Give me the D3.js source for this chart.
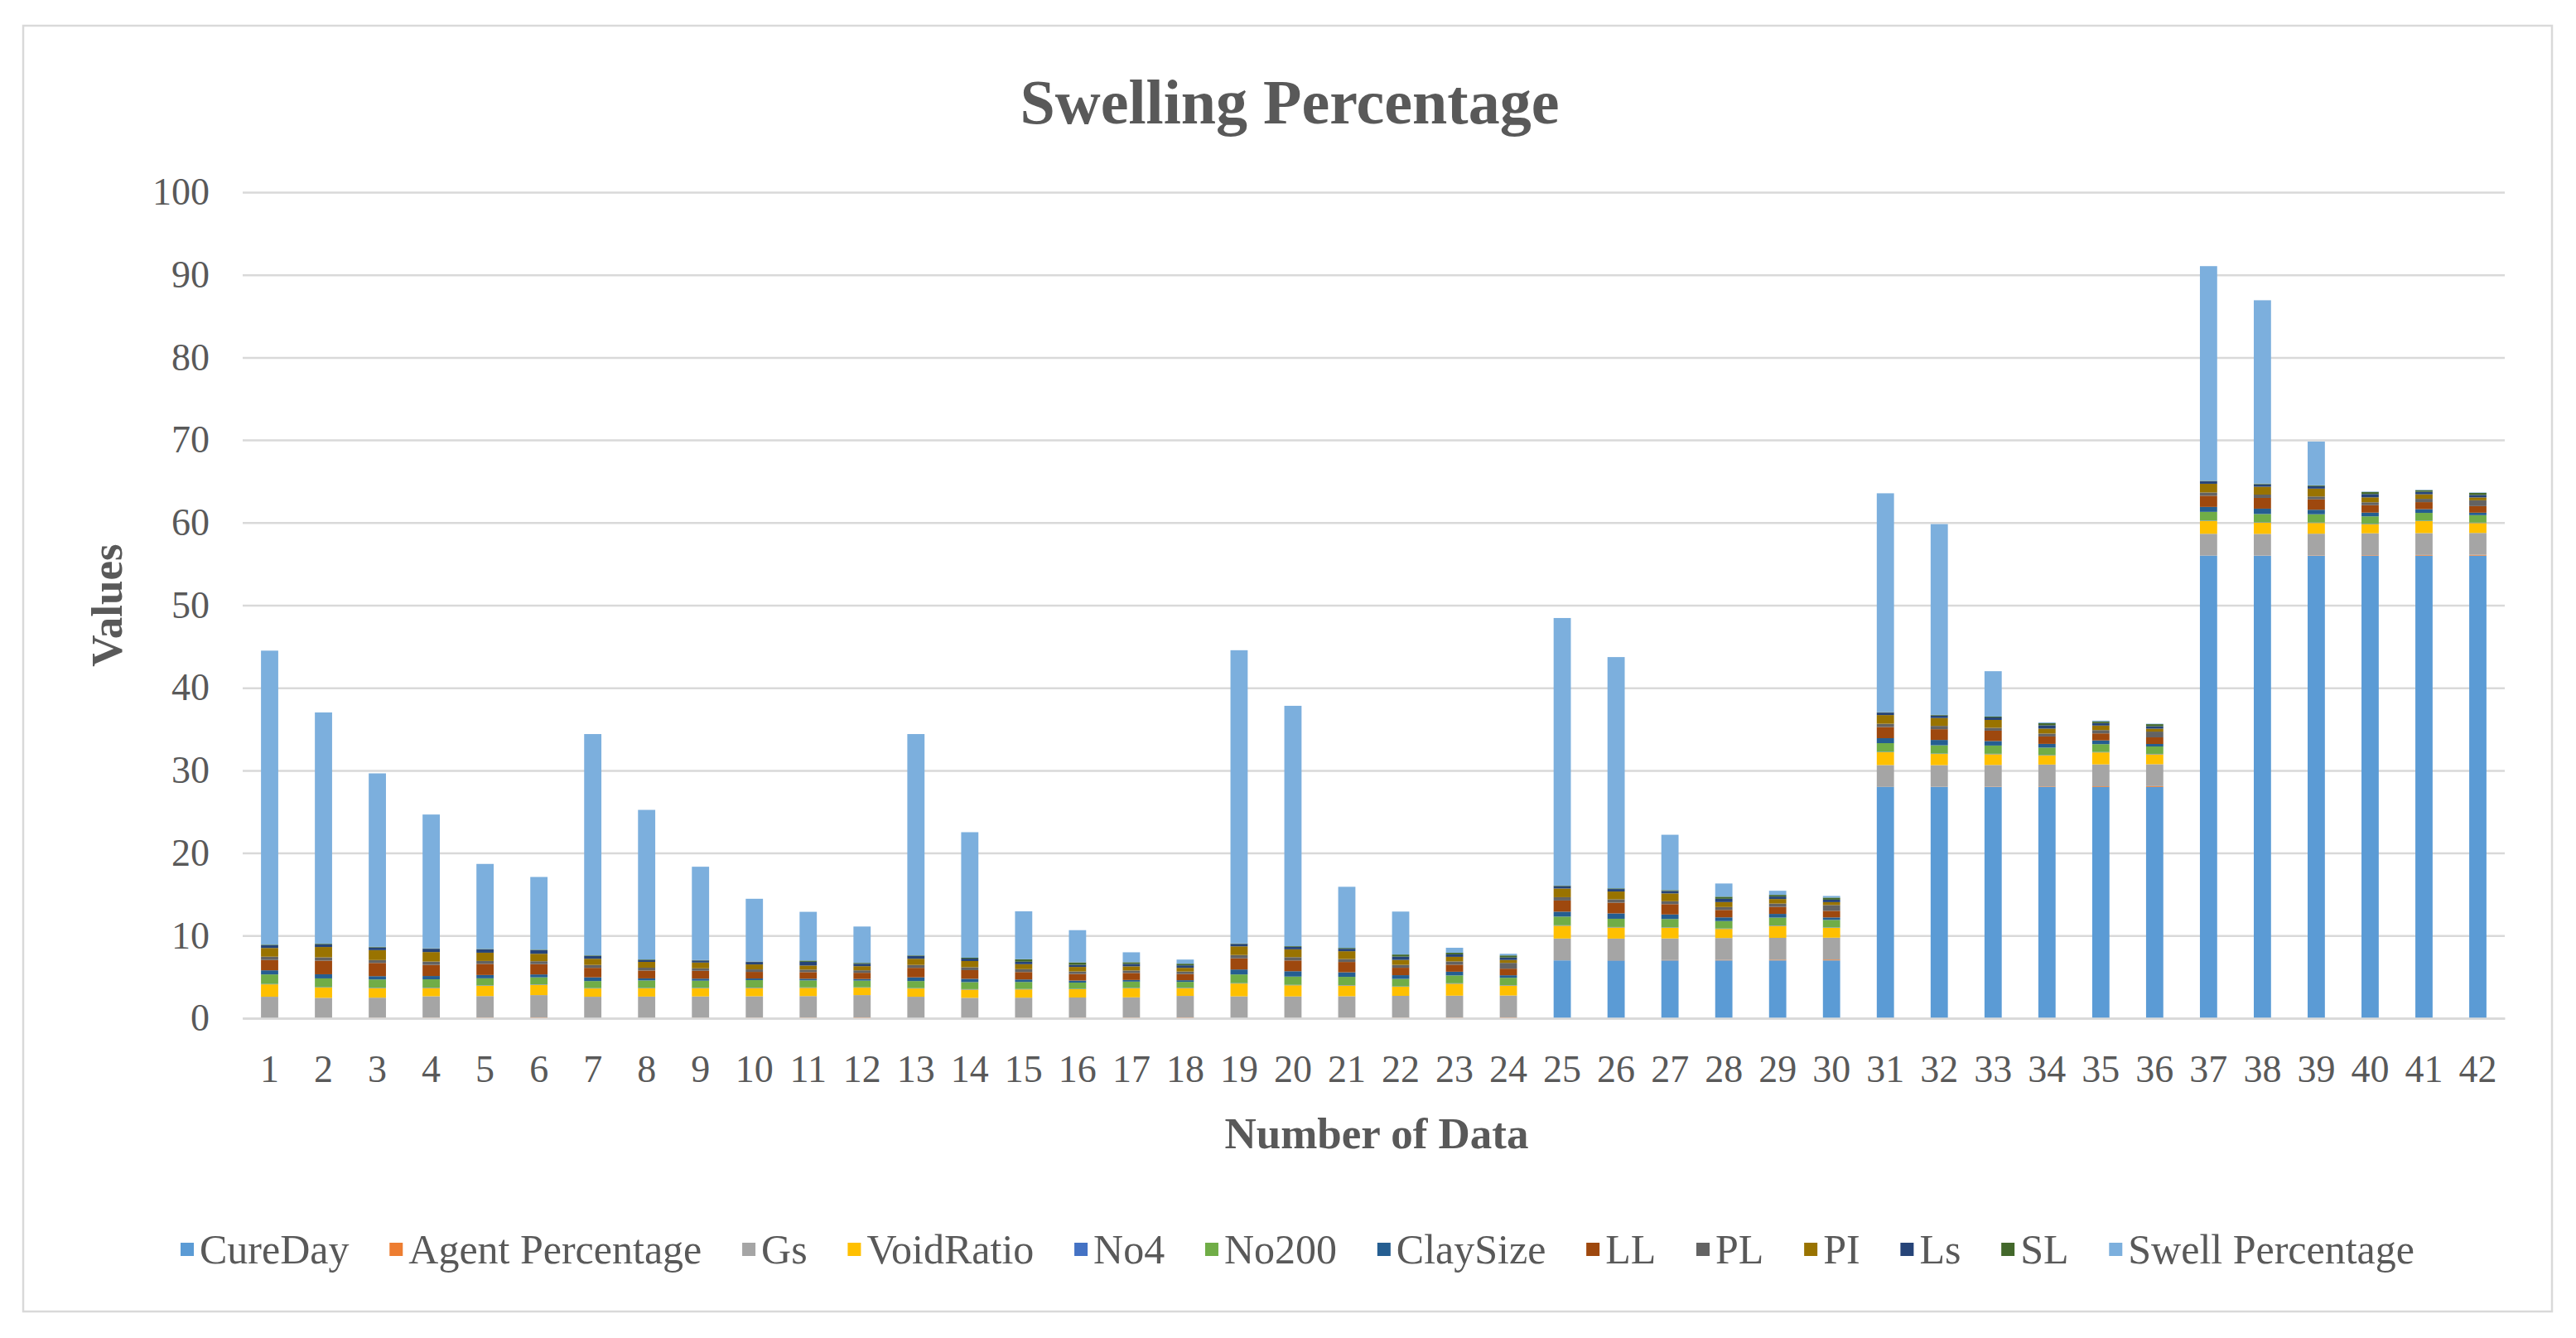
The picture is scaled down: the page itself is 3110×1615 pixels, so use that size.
<!DOCTYPE html>
<html>
<head>
<meta charset="utf-8">
<script src="https://cdn.jsdelivr.net/npm/d3@7/dist/d3.min.js"></script>
<style>
  html, body { margin: 0; padding: 0; background: #ffffff; }
  svg { display: block; }
  text { font-family: "Liberation Serif", "Times New Roman", serif; }
</style>
</head>
<body>
<svg id="chart" width="3110" height="1615"></svg>
<script>
// ---------------- DATA ----------------
const categories = d3.range(1, 43).map(String);

const seriesNames = ["CureDay", "Agent Percentage", "Gs", "VoidRatio", "No4", "No200",
  "ClaySize", "LL", "PL", "PI", "Ls", "SL", "Swell Percentage"];

const seriesColors = ["#5B9BD5", "#ED7D31", "#A5A5A5", "#FFC000", "#4472C4", "#70AD47",
  "#255E91", "#9E480E", "#636363", "#997300", "#264478", "#43682B", "#7CAFDD"];

const cureDay = [0,0,0,0,0,0, 0,0,0,0,0,0, 0,0,0,0,0,0, 0,0,0,0,0,0,
  7,7,7,7,7,7, 28,28,28,28,28,28, 56,56,56,56,56,56];

const agentPercentage = [0,0.02,0.04,0.06,0.08,0.1, 0,0.02,0.04,0.06,0.08,0.1,
  0,0.02,0.04,0.06,0.08,0.1, 0,0.02,0.04,0.06,0.08,0.1, 0,0.02,0.04,0.06,0.08,0.1,
  0,0.02,0.04,0.06,0.08,0.1, 0,0.02,0.04,0.06,0.08,0.1];

const gs = [2.6,2.45,2.45,2.6,2.6,2.7, 2.6,2.6,2.6,2.6,2.6,2.7, 2.6,2.45,2.45,2.45,2.45,2.6,
  2.65,2.62,2.62,2.65,2.65,2.65, 2.65,2.62,2.62,2.65,2.65,2.65,
  2.65,2.62,2.62,2.65,2.65,2.65, 2.65,2.62,2.62,2.65,2.65,2.65];

const voidRatio = [1.5,1.25,1.15,1.0,1.25,1.25, 1.0,1.0,1.0,1.0,1.0,0.9, 1.0,1.0,1.0,1.0,1.1,0.95,
  1.55,1.35,1.3,1.1,1.45,1.2, 1.55,1.35,1.3,1.1,1.45,1.2,
  1.55,1.35,1.3,1.1,1.45,1.2, 1.55,1.35,1.3,1.1,1.45,1.2];

const no4 = [0.05,0.05,0.05,0.05,0.05,0.05, 0.05,0.05,0.05,0.05,0.05,0.05, 0.05,0.05,0.05,0.05,0.05,0.05,
  0.05,0.05,0.05,0.05,0.05,0.05, 0.05,0.05,0.05,0.05,0.05,0.05,
  0.05,0.05,0.05,0.05,0.05,0.05, 0.05,0.05,0.05,0.05,0.05,0.05];

const no200 = [1.15,1.05,1.0,1.0,0.85,0.85, 0.85,0.9,0.85,0.9,0.85,0.8, 0.85,0.85,0.85,0.75,0.75,0.7,
  1.05,1.0,1.0,0.9,0.95,0.9, 1.05,1.0,1.0,0.9,0.95,0.9,
  1.05,1.0,1.0,0.9,0.95,0.9, 1.05,1.0,1.0,0.9,0.95,0.9];

const claySize = [0.5,0.5,0.4,0.4,0.4,0.35, 0.45,0.25,0.25,0.2,0.2,0.2, 0.45,0.4,0.3,0.25,0.2,0.2,
  0.6,0.65,0.55,0.45,0.45,0.3, 0.6,0.65,0.55,0.45,0.45,0.3,
  0.6,0.65,0.55,0.45,0.45,0.3, 0.6,0.65,0.55,0.45,0.45,0.3];

const ll = [1.25,1.65,1.6,1.35,1.35,1.25, 1.15,0.95,0.95,0.8,0.8,0.75, 1.15,1.05,0.9,0.8,0.85,0.75,
  1.35,1.3,1.25,0.9,0.85,0.8, 1.35,1.3,1.25,0.9,0.85,0.8,
  1.35,1.3,1.25,0.9,0.85,0.8, 1.35,1.3,1.25,0.9,0.85,0.8];

const pl = [0.4,0.4,0.35,0.4,0.35,0.35, 0.35,0.35,0.3,0.3,0.3,0.3, 0.35,0.35,0.35,0.3,0.3,0.3,
  0.4,0.4,0.35,0.35,0.4,0.7, 0.4,0.4,0.35,0.35,0.4,0.7,
  0.4,0.4,0.35,0.35,0.4,0.7, 0.4,0.4,0.35,0.35,0.4,0.7];

const pi = [1.05,1.25,1.2,1.15,1.0,0.9, 0.75,0.7,0.7,0.6,0.5,0.5, 0.75,0.75,0.6,0.55,0.5,0.45,
  1.05,0.95,0.95,0.6,0.55,0.35, 1.05,0.95,0.95,0.6,0.55,0.35,
  1.05,0.95,0.95,0.6,0.55,0.35, 1.05,0.95,0.95,0.6,0.55,0.35];

const ls = [0.33,0.33,0.33,0.4,0.4,0.45, 0.33,0.25,0.25,0.3,0.45,0.3, 0.33,0.3,0.3,0.25,0.3,0.3,
  0.3,0.3,0.3,0.4,0.3,0.3, 0.3,0.3,0.3,0.4,0.3,0.3,
  0.3,0.3,0.3,0.4,0.3,0.3, 0.3,0.3,0.3,0.4,0.3,0.3];

const sl = [0.07,0.07,0.07,0.05,0.05,0.05, 0.07,0.05,0.05,0.05,0.15,0.1, 0.07,0.1,0.3,0.3,0.2,0.2,
  0.05,0.08,0.1,0.25,0.2,0.25, 0.05,0.08,0.1,0.25,0.2,0.25,
  0.05,0.08,0.1,0.25,0.2,0.25, 0.05,0.08,0.1,0.25,0.2,0.25];

const swellPercentage = [35.6,28.0,21.0,16.2,10.3,8.8, 26.8,18.1,11.3,7.6,5.9,4.4,
  26.8,15.2,5.8,3.9,1.2,0.5, 35.5,29.1,7.4,5.2,0.6,0.2,
  32.4,28.0,6.7,1.6,0.5,0.2, 26.5,23.1,5.5,0.1,0.1,0.05, 26.0,22.2,5.3,0.05,0.05,0.05];

const yTicks = [0,10,20,30,40,50,60,70,80,90,100];

const titleText = "Swelling Percentage";
const xTitle = "Number of Data";
const yTitle = "Values";

// ---------------- BUILD TABLE ----------------
const seriesValues = [cureDay, agentPercentage, gs, voidRatio, no4, no200, claySize,
  ll, pl, pi, ls, sl, swellPercentage];
const table = categories.map((c, i) => {
  const row = { cat: c };
  seriesNames.forEach((s, k) => { row[s] = seriesValues[k][i]; });
  return row;
});

// ---------------- LAYOUT ----------------
const W = 3110, H = 1615;
const plot = { left: 293, right: 3024, top: 232, bottom: 1229 };
const textColor = "#595959";
const gridColor = "#D9D9D9";

const svg = d3.select("#chart");
svg.append("rect").attr("x", 0).attr("y", 0).attr("width", W).attr("height", H).attr("fill", "#fff");
svg.append("rect").attr("x", 28).attr("y", 31).attr("width", 3053).attr("height", 1552)
  .attr("fill", "#fff").attr("stroke", gridColor).attr("stroke-width", 2.5);

const x = d3.scaleBand().domain(categories).range([plot.left, plot.right])
  .paddingInner(0.68).paddingOuter(0.34);
const y = d3.scaleLinear().domain([0, 100]).range([plot.bottom, plot.top]);

// gridlines
const yAxis = d3.axisLeft(y).tickValues(yTicks).tickSize(-(plot.right - plot.left)).tickPadding(40);
const gy = svg.append("g").attr("transform", `translate(${plot.left},0)`).call(yAxis);
gy.select(".domain").remove();
gy.selectAll(".tick line").attr("stroke", gridColor).attr("stroke-width", 2.5);
gy.selectAll(".tick text").attr("fill", textColor).attr("font-size", 46)
  .style("font-family", '"Liberation Serif", "Times New Roman", serif');

// stacked bars
const stack = d3.stack().keys(seriesNames);
const layers = stack(table);
const gBars = svg.append("g");
layers.forEach((layer, k) => {
  gBars.append("g").attr("fill", seriesColors[k])
    .selectAll("rect").data(layer).join("rect")
    .attr("x", d => x(d.data.cat))
    .attr("width", x.bandwidth())
    .attr("y", d => y(d[1]))
    .attr("height", d => Math.max(0, y(d[0]) - y(d[1])));
});

// x axis
const xAxis = d3.axisBottom(x).tickSize(0).tickPadding(44);
const gx = svg.append("g").attr("transform", `translate(0,${plot.bottom})`).call(xAxis);
gx.select(".domain").attr("stroke", gridColor).attr("stroke-width", 2.5);
gx.selectAll(".tick text").attr("fill", textColor).attr("font-size", 46)
  .style("font-family", '"Liberation Serif", "Times New Roman", serif');

// title
svg.append("text").attr("x", 1557).attr("y", 123).attr("text-anchor", "middle")
  .attr("dominant-baseline", "central").attr("font-size", 76).attr("font-weight", "bold")
  .attr("fill", textColor).text(titleText);

// axis titles
svg.append("text").attr("x", 1662).attr("y", 1368).attr("text-anchor", "middle")
  .attr("dominant-baseline", "central").attr("font-size", 53).attr("font-weight", "bold")
  .attr("fill", textColor).text(xTitle);
svg.append("text").attr("transform", `translate(129,${(plot.top + plot.bottom) / 2}) rotate(-90)`)
  .attr("text-anchor", "middle").attr("dominant-baseline", "central")
  .attr("font-size", 53).attr("font-weight", "bold").attr("fill", textColor).text(yTitle);

// legend
const legY = 1508, marker = 16, markerGap = 7, legLeft = 218, legRight = 2915;
const legG = svg.append("g");
const items = seriesNames.map((name, k) => {
  const g = legG.append("g");
  g.append("rect").attr("width", marker).attr("height", marker).attr("y", legY - marker / 2)
    .attr("fill", seriesColors[k]);
  const t = g.append("text").attr("x", marker + markerGap).attr("y", legY)
    .attr("dominant-baseline", "central").attr("font-size", 50).attr("fill", textColor).text(name);
  return { g, w: marker + markerGap + t.node().getComputedTextLength() };
});
const totalItems = d3.sum(items, d => d.w);
const spacing = (legRight - legLeft - totalItems) / (items.length - 1);
let cx = legLeft;
items.forEach(it => { it.g.attr("transform", `translate(${cx},0)`); cx += it.w + spacing; });
</script>
</body>
</html>
